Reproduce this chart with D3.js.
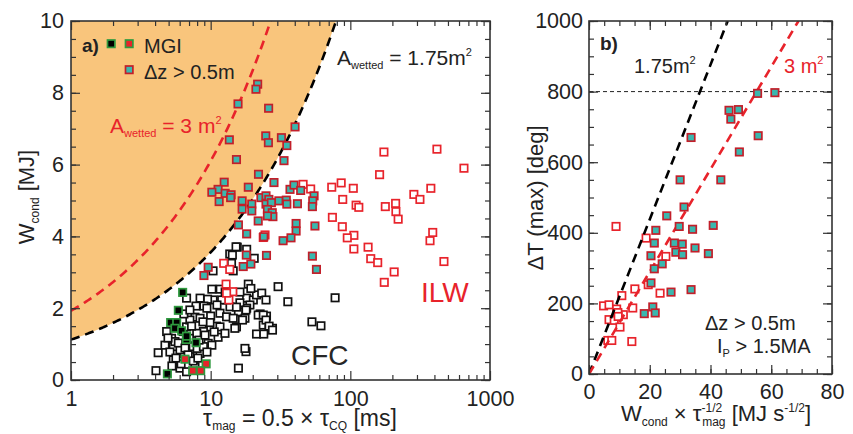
<!DOCTYPE html>
<html>
<head>
<meta charset="utf-8">
<script src="https://cdnjs.cloudflare.com/ajax/libs/d3/7.8.5/d3.min.js"></script>
<style>
  body { margin: 0; background: #fff; }
  text { font-family: 'Liberation Sans', Arial, sans-serif; fill: #222; }
</style>
</head>
<body>
<script>
// ---- panel a data: [tau_mag (ms), W_cond (MJ)] ----
var cfcOpen = [[4.21,0.76],[4.06,0.26],[15.8,0.33],[17.9,0.79],[13.7,3.51],[15.5,3.70],[10.4,3.04],[13.7,3.25],
  [14.5,3.04],[10.2,2.53],[11.7,2.53],[10.4,2.23],[9.5,2.25],[8.94,2.06],[7.85,2.06],[6.72,2.28],[7.72,1.75],
  [8.39,1.72],[10.0,1.78],[11.66,1.86],[11.0,1.50],[9.79,1.48],[8.87,1.35],[11.3,1.19],[9.6,1.02],[7.5,0.93],
  [8.39,0.74],[7.11,0.65],[5.71,0.74],[5.40,0.93],[5.25,1.16],[4.84,1.35],[5.40,0.56],[6.03,0.33],[6.72,0.23],
  [7.72,0.37],[6.36,1.35],[6.72,1.48],[7.95,1.30],[7.04,1.16],[18.1,2.28],[20.2,2.23],[21.3,2.37],[19.1,2.09],
  [22.6,1.84],[25.1,1.78],[23.8,1.53],[26.2,1.41],[27.7,1.44],[21.3,1.28],[18.1,2.00],[15.8,1.90],[16.2,2.15],
  [13.75,2.04],[13.0,2.23],[15.3,1.48],[17.6,1.72],[13.0,1.76],[14.5,1.72],[11.66,1.48],[12.66,1.30],[9.4,2.00],
  [9.89,1.60],[6.03,0.84],[5.55,1.07],[8.0,0.88],[8.87,0.93],[30.4,2.60],[35.7,2.18],[77.8,2.29],[53.1,1.62],
  [61.6,1.51],[15.2,3.71],[18.1,3.64],[20.5,3.39],[14.3,3.48],[14.1,3.25],[18.6,2.67],[19.4,2.55],[23.2,2.42],
  [24.9,2.23],[17.9,1.95],[15.3,2.03],[16.9,1.67],[14.9,1.44],[21.9,1.81],[23.8,1.81],[24.9,1.67],[26.2,1.50],
  [27.7,1.39],[24.0,1.28],[17.6,0.88],[4.71,0.97],[5.11,0.78],[5.87,1.03],[6.55,0.89],[6.9,0.70],[7.5,0.53],
  [6.14,0.45],[5.64,0.61],[8.25,1.11],[9.11,1.25],[10.2,0.97],[10.6,1.34],[8.8,1.62],[7.1,1.67],[6.43,1.84],
  [7.3,1.50],[4.95,1.17],[5.28,0.39],[8.1,0.61],[9.4,0.78],[12.0,2.23],[11.1,2.09],[12.7,2.45],[16.2,2.45],
  [8.4,2.28],[7.1,1.95]];

var ilwOpen = [[45.9,5.45],[52.0,5.32],[73.6,5.37],[86.0,5.49],[105,5.34],[162,5.72],[174,6.35],[88.2,5.03],
  [110,4.87],[115,4.81],[178,4.83],[211,4.92],[212,4.69],[220,4.48],[74.4,4.53],[87.6,4.27],[106,4.03],
  [95.1,3.96],[106,3.65],[134,3.70],[140,3.38],[157,3.27],[175,2.72],[206,3.01],[285,5.17],[315,5.03],
  [377,5.34],[417,6.43],[372,3.88],[389,4.11],[468,3.30],[651,5.90],[24.5,4.04],[23.8,3.97],[12.4,3.25],
  [13.7,3.08],[12.9,2.67],[14.4,2.46],[13.5,2.23],[13.0,2.42]];

var mgiCfc = [[6.3,2.44],[5.87,1.94],[5.17,1.60],[5.71,1.60],[5.55,1.44],[6.2,1.37],[6.7,1.13],[7.85,1.04],
  [4.9,0.17],[6.72,1.22]];
var mgiIlw = [[6.55,0.58],[9.28,0.45],[7.43,0.26],[8.48,0.26]];

var dzA = [[21.7,8.24],[21.1,8.10],[15.7,7.69],[26.0,7.57],[40.2,7.05],[24.8,6.80],[25.9,6.61],[32.1,6.75],
  [35.1,6.53],[13.6,6.69],[15.3,6.14],[33.5,6.11],[22.0,5.73],[28.4,5.50],[18.6,5.37],[12.5,5.51],[11.3,5.31],
  [10.2,5.23],[12.7,5.20],[14.0,5.16],[11.5,4.97],[13.9,5.08],[16.8,4.99],[16.8,4.76],[19.7,4.90],[19.7,4.71],
  [22.9,5.08],[24.9,5.13],[26.1,5.03],[30.8,4.99],[34.8,5.01],[35.1,4.90],[24.9,4.90],[27.2,4.94],[25.5,4.75],
  [27.6,4.66],[27.9,4.55],[25.5,4.57],[21.9,4.43],[15.8,4.32],[18.1,4.07],[24.0,3.99],[37.0,5.31],[39.5,5.43],
  [44.1,5.28],[41.8,4.91],[55.0,5.13],[53.8,4.99],[53.5,4.83],[40.9,4.36],[40.9,4.15],[55.8,4.29],[37.6,3.96],
  [33.0,3.88],[53.5,3.45],[57.2,3.08],[25.1,3.47],[18.0,3.48],[19.4,3.23],[17.1,3.16],[9.6,3.14],[8.95,2.91]];

// A_wetted curves: W = k * A * sqrt(tau)
var wettedAreas = [1.75, 3];
var wettedCoef = 0.643;

// ---- panel b data: [W_cond * tau^-1/2, dT max] ----
var dzB = [[55.5,795],[61.2,797],[46.1,747],[49.2,749],[46.7,722],[33.6,670],[55.7,675],[49.5,629],[30.0,550],
  [43.4,550],[31.3,473],[25.6,448],[29.7,418],[34.1,410],[40.9,421],[22.0,407],[21.5,371],[28.1,371],[30.7,368],
  [34.9,357],[39.3,341],[28.6,345],[30.8,338],[20.4,335],[24.1,312],[21.5,298],[20.4,258],[27.0,232],[33.6,239],
  [21.0,190],[18.2,171],[21.8,173]];
var ilwB = [[8.9,418],[18.8,385],[25.3,333],[23.4,229],[19.5,253],[15.1,241],[10.8,222],[14.4,187],[4.8,193],
  [6.6,196],[9.1,184],[11.3,168],[6.6,154],[8.3,152],[10.2,133],[9.5,174],[9.6,163],[6.2,95],[7.5,95],[14.1,92]];
var slopeB = [21.9, 14.5];   // 1.75 m2, 3 m2
var limitB = 800;

var xTicksA = [1, 10, 100, 1000];
var yTicksA = [0, 2, 4, 6, 8, 10];
var xTicksB = [0, 20, 40, 60, 80];
var yTicksB = [0, 200, 400, 600, 800, 1000];

var W = 853, H = 434;
var RED = '#e8232b', DRED = '#c21f2a', TEAL = '#3ab7ae', GREEN = '#2f9a3f', ORANGE = '#f9c57c', AX = '#333';

var svg = d3.select('body').append('svg').attr('width', W).attr('height', H);

var xa = d3.scaleLog().domain([1, 1000]).range([71, 490]);
var ya = d3.scaleLinear().domain([0, 10]).range([380, 21]);
var xb = d3.scaleLinear().domain([0, 80]).range([589, 832]);
var yb = d3.scaleLinear().domain([0, 1000]).range([374, 21]);

svg.append('clipPath').attr('id', 'clipA').append('rect')
  .attr('x', 71).attr('y', 21).attr('width', 419).attr('height', 359);
svg.append('clipPath').attr('id', 'clipB').append('rect')
  .attr('x', 589).attr('y', 21).attr('width', 243).attr('height', 353);

function rich(sel, parts) {
  var prev = 0;
  parts.forEach(function (p) {
    var t = sel.append('tspan').text(p[0]).attr('font-size', p[1]).attr('dy', p[2] - prev);
    if (p[3]) t.attr('dx', p[3]);
    prev = p[2];
  });
  return sel;
}

function squares(g, data, x, y, fill, stroke) {
  g.selectAll(null).data(data).enter().append('rect')
    .attr('x', function (d) { return x(d[0]) - 3.7; })
    .attr('y', function (d) { return y(d[1]) - 3.7; })
    .attr('width', 7.4).attr('height', 7.4)
    .attr('fill', fill).attr('stroke', stroke).attr('stroke-width', 1.7);
}

function styleAxis(g) {
  g.select('.domain').remove();
  g.selectAll('line').attr('stroke', AX).attr('stroke-width', 1.2);
  g.selectAll('text').attr('font-size', 21.5).attr('fill', '#222')
    .attr('font-family', "'Liberation Sans', Arial, sans-serif");
}

// ================= panel a =================
var gA = svg.append('g');
var tauTop = Math.pow(10 / (wettedCoef * wettedAreas[0]), 2);
var curveTaus = d3.range(0, 1.0001, 0.01).map(function (t) { return Math.pow(10, t * Math.log10(tauTop)); });
var area = d3.area()
  .x(function (d) { return xa(d); })
  .y0(ya(10))
  .y1(function (d) { return ya(wettedCoef * wettedAreas[0] * Math.sqrt(d)); });
gA.append('path').datum(curveTaus).attr('d', area).attr('fill', ORANGE).attr('clip-path', 'url(#clipA)');

squares(gA, cfcOpen, xa, ya, '#fff', '#111');
squares(gA, ilwOpen, xa, ya, '#fff', RED);
squares(gA, mgiCfc, xa, ya, '#000', GREEN);
squares(gA, mgiIlw, xa, ya, RED, GREEN);

wettedAreas.forEach(function (A, i) {
  var taus = d3.range(0, 3.0001, 0.01).map(function (t) { return Math.pow(10, t); });
  var line = d3.line().x(function (d) { return xa(d); })
    .y(function (d) { return ya(wettedCoef * A * Math.sqrt(d)); });
  gA.append('path').datum(taus).attr('d', line).attr('fill', 'none')
    .attr('stroke', i === 0 ? '#000' : RED).attr('stroke-width', 2.6)
    .attr('stroke-dasharray', '9,6').attr('clip-path', 'url(#clipA)');
});

squares(gA, dzA, xa, ya, TEAL, DRED);

var minorA = [];
[1, 10, 100].forEach(function (dec) { for (var k = 2; k <= 9; k++) minorA.push(dec * k); });
var halfA = d3.range(0, 10.01, 0.5);

gA.append('g').attr('transform', 'translate(0,380)')
  .call(d3.axisBottom(xa).tickValues(xTicksA).tickFormat(d3.format('d')).tickSizeInner(-9).tickSizeOuter(0).tickPadding(11)).call(styleAxis);
gA.append('g').attr('transform', 'translate(0,380)')
  .call(d3.axisBottom(xa).tickValues(minorA).tickFormat('').tickSizeInner(-5).tickSizeOuter(0)).call(styleAxis);
gA.append('g').attr('transform', 'translate(0,21)')
  .call(d3.axisTop(xa).tickValues(xTicksA).tickFormat('').tickSizeInner(-9).tickSizeOuter(0)).call(styleAxis);
gA.append('g').attr('transform', 'translate(0,21)')
  .call(d3.axisTop(xa).tickValues(minorA).tickFormat('').tickSizeInner(-5).tickSizeOuter(0)).call(styleAxis);
gA.append('g').attr('transform', 'translate(71,0)')
  .call(d3.axisLeft(ya).tickValues(yTicksA).tickSizeInner(-9).tickSizeOuter(0).tickPadding(7)).call(styleAxis);
gA.append('g').attr('transform', 'translate(71,0)')
  .call(d3.axisLeft(ya).tickValues(halfA).tickFormat('').tickSizeInner(-5).tickSizeOuter(0)).call(styleAxis);
gA.append('g').attr('transform', 'translate(490,0)')
  .call(d3.axisRight(ya).tickValues(yTicksA).tickFormat('').tickSizeInner(-9).tickSizeOuter(0)).call(styleAxis);
gA.append('g').attr('transform', 'translate(490,0)')
  .call(d3.axisRight(ya).tickValues(halfA).tickFormat('').tickSizeInner(-5).tickSizeOuter(0)).call(styleAxis);
gA.append('rect').attr('x', 71).attr('y', 21).attr('width', 419).attr('height', 359)
  .attr('fill', 'none').attr('stroke', AX).attr('stroke-width', 1.6);

// legend / labels panel a
gA.append('text').attr('x', 82).attr('y', 52).attr('font-size', 19).attr('font-weight', 'bold').text('a)');
gA.append('rect').attr('x', 107.5).attr('y', 40).attr('width', 7.4).attr('height', 7.4)
  .attr('fill', '#000').attr('stroke', GREEN).attr('stroke-width', 1.7);
gA.append('rect').attr('x', 125.5).attr('y', 40).attr('width', 7.4).attr('height', 7.4)
  .attr('fill', RED).attr('stroke', GREEN).attr('stroke-width', 1.7);
gA.append('text').attr('x', 144).attr('y', 52.5).attr('font-size', 20).text('MGI');
gA.append('rect').attr('x', 125.5).attr('y', 66).attr('width', 7.4).attr('height', 7.4)
  .attr('fill', TEAL).attr('stroke', DRED).attr('stroke-width', 1.7);
gA.append('text').attr('x', 144).attr('y', 78.5).attr('font-size', 20).text('Δz > 0.5m');

rich(gA.append('text').attr('x', 110).attr('y', 133).style('fill', RED),
  [['A', 21, 0], ['wetted', 11, 4], [' = 3 m', 21, 0], ['2', 11, -9]]);
rich(gA.append('text').attr('x', 337).attr('y', 65),
  [['A', 21, 0], ['wetted', 11, 4], [' = 1.75m', 21, 0], ['2', 11, -9]]);
gA.append('text').attr('x', 291).attr('y', 365).attr('font-size', 28).style('fill', '#262626').text('CFC');
gA.append('text').attr('x', 421).attr('y', 302).attr('font-size', 28).style('fill', RED).text('ILW');

rich(gA.append('text').attr('x', 300).attr('y', 426).attr('text-anchor', 'middle'),
  [['τ', 23, 0], ['mag', 12, 4], [' = 0.5 × τ', 23, 0], ['CQ', 12, 4], [' [ms]', 23, 0]]);
rich(gA.append('text').attr('transform', 'translate(34,197) rotate(-90)').attr('text-anchor', 'middle'),
  [['W', 22, 0], ['cond', 12, 5], [' [MJ]', 22, 0]]);

// ================= panel b =================
var gB = svg.append('g');
gB.append('line').attr('x1', xb(0)).attr('x2', xb(80)).attr('y1', yb(limitB)).attr('y2', yb(limitB))
  .attr('stroke', '#222').attr('stroke-width', 1).attr('stroke-dasharray', '4,3');

squares(gB, ilwB, xb, yb, '#fff', RED);

slopeB.forEach(function (s, i) {
  gB.append('line').attr('x1', xb(0)).attr('y1', yb(0)).attr('x2', xb(1000 / s)).attr('y2', yb(1000))
    .attr('stroke', i === 0 ? '#000' : RED).attr('stroke-width', 2.6).attr('stroke-dasharray', '9,6')
    .attr('clip-path', 'url(#clipB)');
});

squares(gB, dzB, xb, yb, TEAL, DRED);

gB.append('g').attr('transform', 'translate(0,374)')
  .call(d3.axisBottom(xb).tickValues(xTicksB).tickFormat(d3.format('d')).tickSizeInner(-9).tickSizeOuter(0).tickPadding(10)).call(styleAxis);
gB.append('g').attr('transform', 'translate(0,374)')
  .call(d3.axisBottom(xb).tickValues(d3.range(0, 81, 5)).tickFormat('').tickSizeInner(-5).tickSizeOuter(0)).call(styleAxis);
gB.append('g').attr('transform', 'translate(0,21)')
  .call(d3.axisTop(xb).tickValues(xTicksB).tickFormat('').tickSizeInner(-9).tickSizeOuter(0)).call(styleAxis);
gB.append('g').attr('transform', 'translate(0,21)')
  .call(d3.axisTop(xb).tickValues(d3.range(0, 81, 5)).tickFormat('').tickSizeInner(-5).tickSizeOuter(0)).call(styleAxis);
gB.append('g').attr('transform', 'translate(589,0)')
  .call(d3.axisLeft(yb).tickValues(yTicksB).tickFormat(d3.format('d')).tickSizeInner(-9).tickSizeOuter(0).tickPadding(6)).call(styleAxis);
gB.append('g').attr('transform', 'translate(589,0)')
  .call(d3.axisLeft(yb).tickValues(d3.range(0, 1001, 50)).tickFormat('').tickSizeInner(-5).tickSizeOuter(0)).call(styleAxis);
gB.append('g').attr('transform', 'translate(832,0)')
  .call(d3.axisRight(yb).tickValues(yTicksB).tickFormat('').tickSizeInner(-9).tickSizeOuter(0)).call(styleAxis);
gB.append('g').attr('transform', 'translate(832,0)')
  .call(d3.axisRight(yb).tickValues(d3.range(0, 1001, 50)).tickFormat('').tickSizeInner(-5).tickSizeOuter(0)).call(styleAxis);
gB.append('rect').attr('x', 589).attr('y', 21).attr('width', 243).attr('height', 353)
  .attr('fill', 'none').attr('stroke', AX).attr('stroke-width', 1.6);

gB.append('text').attr('x', 600).attr('y', 50).attr('font-size', 19).attr('font-weight', 'bold').text('b)');
rich(gB.append('text').attr('x', 634).attr('y', 73), [['1.75m', 20, 0], ['2', 11, -9]]);
rich(gB.append('text').attr('x', 784).attr('y', 73).style('fill', RED), [['3 m', 20, 0], ['2', 11, -9]]);
gB.append('text').attr('x', 705).attr('y', 330).attr('font-size', 20).text('Δz > 0.5m');
rich(gB.append('text').attr('x', 717).attr('y', 353), [['I', 20, 0], ['P', 11, 4], [' > 1.5MA', 20, 0]]);

rich(gB.append('text').attr('x', 716).attr('y', 421).attr('text-anchor', 'middle'),
  [['W', 22, 0], ['cond', 12, 5], [' × τ', 22, 0], ['-1/2', 12, -9], ['mag', 12, 5, -20], [' [MJ s', 22, 0], ['-1/2', 12, -9], [']', 22, 0]]);
gB.append('text').attr('transform', 'translate(543,198) rotate(-90)').attr('text-anchor', 'middle')
  .attr('font-size', 22).text('ΔT (max) [deg]');
</script>
</body>
</html>
